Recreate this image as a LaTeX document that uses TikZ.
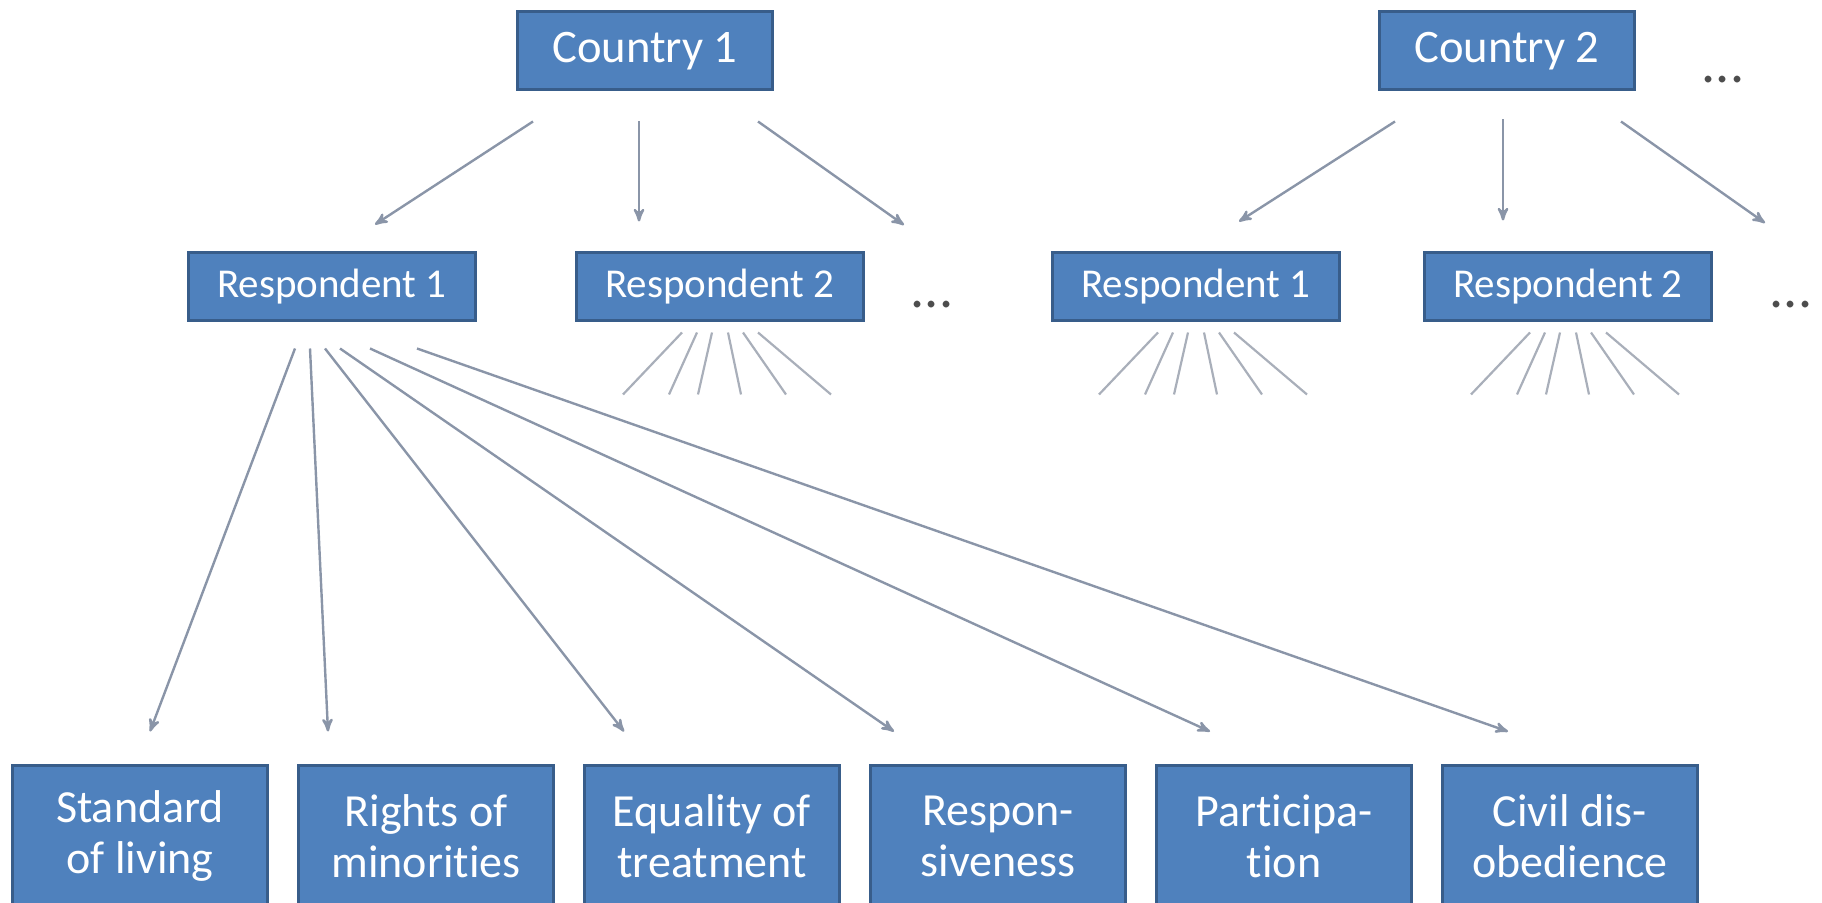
\documentclass[tikz,border=0pt]{standalone}
\usepackage{fontspec}
\setmainfont{Carlito}[Ligatures=NoCommon]
\usetikzlibrary{arrows,positioning,calc}
\definecolor{boxfill}{HTML}{4F81BD}
\definecolor{boxline}{HTML}{385D8A}
\definecolor{arrowgrey}{HTML}{8A95A8}
\definecolor{fangrey}{HTML}{A9AFBA}
\definecolor{dotgrey}{HTML}{4D4D4D}

\begin{document}
\begin{tikzpicture}[x=0.5pt,y=-0.5pt,>=stealth',
        box/.style={draw=boxline,line width=1.5pt,fill=boxfill,text=white,inner sep=0pt},
        country/.style={box,minimum width=127.5pt,minimum height=39pt,font=\fontsize{23.3}{26}\selectfont},
        respondent/.style={box,minimum width=143.5pt,minimum height=34pt,font=\fontsize{20.5}{24}\selectfont},
        item/.style={box,minimum width=127.5pt,minimum height=71pt,align=center,font=\fontsize{23}{25.5}\selectfont},
        link/.style={->,draw=arrowgrey,line width=1.2pt},
        stub/.style={draw=fangrey,line width=1.1pt},
        more/.style={text=dotgrey,font=\fontsize{28}{30}\selectfont,inner sep=0pt}]
      \useasboundingbox (0,0) rectangle (1822,903);
      \node[country] (c1) at (645,51) {Country 1};
      \node[country] (c2) at (1507,51) {Country 2};
      \node[more] (m0) at (1723,80) {...};
      \node[respondent] (r11) at (332,287) {Respondent 1};
      \node[respondent] (r12) at (720,287) {Respondent 2};
      \node[more] (m1) at (932,305) {...};
      \node[respondent] (r21) at (1196,287) {Respondent 1};
      \node[respondent] (r22) at (1568,287) {Respondent 2};
      \node[more] (m2) at (1791,305) {...};
      \node[item] (sl) at (140,836) {Standard\\of living};
      \node[item] (rm) [right=14pt of sl] {Rights of\\minorities};
      \node[item] (eq) [right=14pt of rm] {Equality of\\treatment};
      \node[item] (rs) [right=14pt of eq] {Respon-\\siveness};
      \node[item] (pa) [right=14pt of rs] {Participa-\\tion};
      \node[item] (cd) [right=14pt of pa] {Civil dis-\\obedience};
      \path ($(c1.south)+(-112,30)$) edge[link] ($(r11.north)+(43,-27)$)
      ($(c1.south)+(-6,30)$) edge[link] ($(r12.north)+(-81,-30)$)
      ($(c1.south)+(113,30)$) edge[link] ($(m1.center)+(-28,-80)$);
      \path ($(c2.south)+(-112,30)$) edge[link] ($(r21.north)+(43,-30)$)
      ($(c2.south)+(-4,28)$) edge[link] ($(r22.north)+(-65,-31)$)
      ($(c2.south)+(114,30)$) edge[link] ($(m2.center)+(-26,-82)$);
      % other respondents, answers only hinted
      \foreach \r in {r12,r21,r22}
        \foreach \t/\b in {-38/-97,-23/-51,-8/-22,8/21,23/66,38/111}
          \draw[stub] ($(\r.south)+(\t,10)$) -- ($(\r.south)+(\b,72)$);
      \path ($(r11.south)+(-37,26)$) edge[link] ($(sl.north)+(10,-32)$)
      ($(r11.south)+(-22,26)$) edge[link] ($(rm.north)+(-98,-32)$)
      ($(r11.south)+(-7,26)$) edge[link] ($(eq.north)+(-88,-32)$)
      ($(r11.south)+(8,26)$) edge[link] ($(rs.north)+(-104,-32)$)
      ($(r11.south)+(38,26)$) edge[link] ($(pa.north)+(-74,-32)$)
      ($(r11.south)+(85,26)$) edge[link] ($(cd.north)+(-62,-32)$);
    \end{tikzpicture}
\end{document}
